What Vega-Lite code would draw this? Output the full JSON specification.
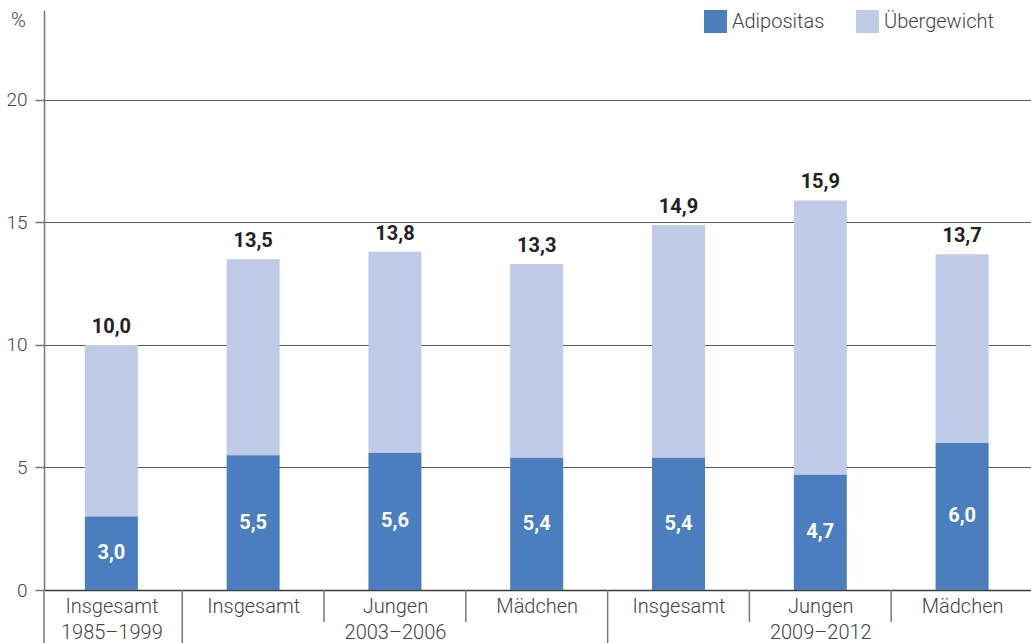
{
  "$schema": "https://vega.github.io/schema/vega-lite/v6.json",
  "width": 987,
  "height": 580,
  "autosize": {"type": "none"},
  "padding": {"left": 44, "top": 10, "right": 0, "bottom": 53},
  "config": {
    "locale": {"number": {"decimal": ",", "thousands": ".", "grouping": [3], "currency": ["", " €"]}},
    "view": {"stroke": null},
    "font": "Roboto"
  },
  "datasets": {
    "bars": [
      {"id": 1, "adip": 3.0, "total": 10.0},
      {"id": 2, "adip": 5.5, "total": 13.5},
      {"id": 3, "adip": 5.6, "total": 13.8},
      {"id": 4, "adip": 5.4, "total": 13.3},
      {"id": 5, "adip": 5.4, "total": 14.9},
      {"id": 6, "adip": 4.7, "total": 15.9},
      {"id": 7, "adip": 6.0, "total": 13.7}
    ],
    "seps": [
      {"pos": 0.525, "kind": "group"},
      {"pos": 1.5, "kind": "group"},
      {"pos": 2.5, "kind": "sub"},
      {"pos": 3.5, "kind": "sub"},
      {"pos": 4.5, "kind": "group"},
      {"pos": 5.5, "kind": "sub"},
      {"pos": 6.5, "kind": "sub"}
    ]
  },
  "resolve": {"scale": {"y": "independent"}},
  "layer": [
    {
      "layer": [
        {
          "data": {"name": "bars"},
          "mark": {"type": "bar", "size": 53},
          "encoding": {
            "x": {
              "field": "id", "type": "quantitative",
              "scale": {"domain": [0.525, 7.486], "nice": false, "zero": false, "padding": 0},
              "axis": {
                "values": [1, 2, 3, 4, 5, 6, 7],
                "title": null, "grid": false, "ticks": false,
                "domain": true, "domainColor": "#3a3a3a", "domainWidth": 1.5,
                "labelExpr": "datum.value == 1 ? ['Insgesamt', '1985–1999'] : (datum.value == 2 || datum.value == 5) ? 'Insgesamt' : datum.value == 3 ? ['Jungen', '2003–2006'] : datum.value == 6 ? ['Jungen', '2009–2012'] : 'Mädchen'",
                "labelFontSize": 20, "labelFontWeight": 300, "labelColor": "#444444",
                "labelPadding": 6, "labelLineHeight": 26, "labelFlush": false, "labelOverlap": false
              }
            },
            "y": {
              "field": "total", "type": "quantitative",
              "scale": {"domain": [0, 23.67], "nice": false},
              "axis": {
                "values": [0, 5, 10, 15, 20],
                "title": "%", "titleAngle": 0, "titleX": -26, "titleY": 10,
                "titleAlign": "center", "titleBaseline": "middle",
                "titleFontSize": 20, "titleFontWeight": 300, "titleColor": "#444444",
                "grid": true, "gridColor": "#5a5a5a", "gridWidth": 1,
                "domain": true, "domainColor": "#777777", "domainWidth": 1.5,
                "tickSize": 9, "tickColor": "#777777", "tickWidth": 1.5,
                "labelFontSize": 19, "labelFontWeight": 300, "labelColor": "#444444",
                "labelPadding": 8
              }
            },
            "y2": {"field": "adip"},
            "color": {
              "datum": "Übergewicht",
              "scale": {"domain": ["Adipositas", "Übergewicht"], "range": ["#4a7ebf", "#c0cbe8"]},
              "legend": {
                "title": null, "orient": "none", "legendX": 660, "legendY": 0,
                "direction": "horizontal", "symbolType": "square", "symbolSize": 529,
                "symbolStrokeWidth": 0, "labelFontSize": 20, "labelFontWeight": 300,
                "labelColor": "#444444", "labelOffset": 5, "columnPadding": 31
              }
            }
          }
        },
        {
          "data": {"name": "bars"},
          "mark": {"type": "bar", "size": 53},
          "encoding": {
            "x": {"field": "id", "type": "quantitative"},
            "y": {"field": "adip", "type": "quantitative"},
            "y2": {"datum": 0},
            "color": {"datum": "Adipositas"}
          }
        },
        {
          "data": {"name": "bars"},
          "mark": {"type": "text", "fontSize": 20, "fontWeight": "bold", "color": "#222222", "baseline": "alphabetic", "dy": -12},
          "encoding": {
            "x": {"field": "id", "type": "quantitative"},
            "y": {"field": "total", "type": "quantitative"},
            "text": {"field": "total", "type": "quantitative", "format": ".1f"}
          }
        },
        {
          "data": {"name": "seps"},
          "transform": [{"filter": "datum.kind == 'group'"}],
          "mark": {"type": "rule", "color": "#777777", "strokeWidth": 1.5},
          "encoding": {
            "x": {"field": "pos", "type": "quantitative"},
            "y": {"datum": 0},
            "y2": {"datum": -2.3}
          }
        },
        {
          "data": {"name": "seps"},
          "transform": [{"filter": "datum.kind == 'sub'"}],
          "mark": {"type": "rule", "color": "#777777", "strokeWidth": 1.5},
          "encoding": {
            "x": {"field": "pos", "type": "quantitative"},
            "y": {"datum": 0},
            "y2": {"datum": -1.31}
          }
        }
      ]
    },
    {
      "data": {"name": "bars"},
      "mark": {"type": "text", "fontSize": 20, "fontWeight": "bold", "color": "#ffffff", "baseline": "middle"},
      "encoding": {
        "x": {"field": "id", "type": "quantitative"},
        "y": {"field": "adip", "type": "quantitative", "scale": {"domain": [0, 47.34], "nice": false}, "axis": null},
        "text": {"field": "adip", "type": "quantitative", "format": ".1f"}
      }
    }
  ]
}
